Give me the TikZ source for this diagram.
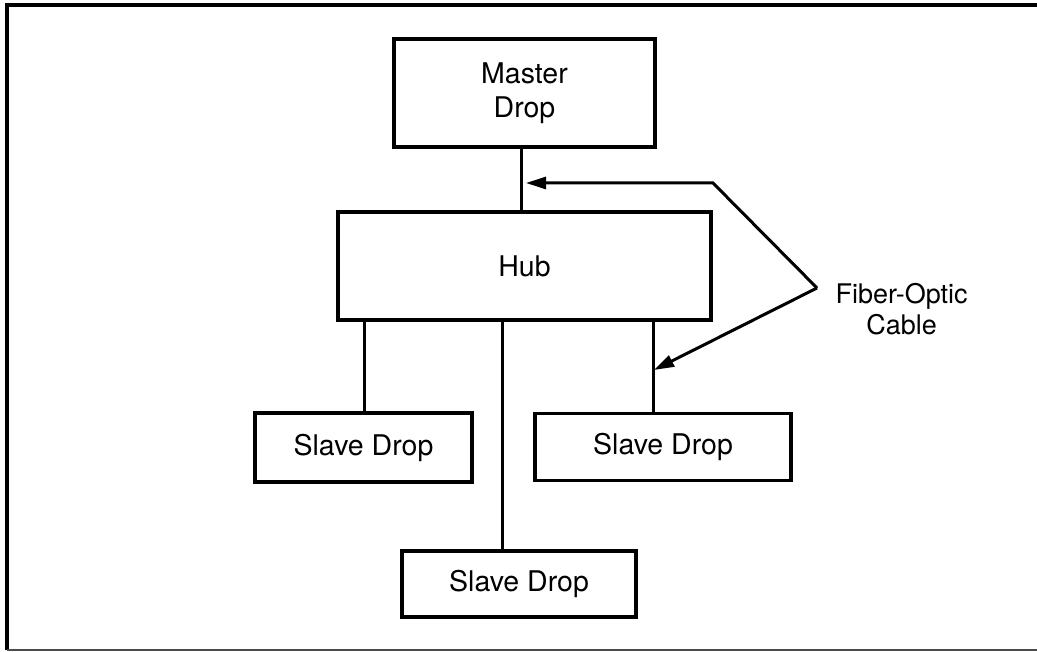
\documentclass[tikz,border=0pt]{standalone}
\usepackage{fontspec}
\setmainfont{TeX Gyre Heros}
\usetikzlibrary{arrows.meta}
\begin{document}
\begin{tikzpicture}[x=1pt,y=-1pt,
  box/.style={draw,line width=3.2pt,inner sep=0pt,align=center,
    font=\fontsize{28.5}{34}\selectfont},
  wire/.style={line width=3pt},
  pointer/.style={line width=3pt,-{Triangle[length=20pt,width=12pt]},line join=miter},
  frameline/.style={line width=3.6pt}]
\useasboundingbox (0,0) rectangle (1037,652);
% frame
\coordinate (ftr) at (1037,5);
\coordinate (ftl) at (7,5);
\coordinate (fbl) at (7,650);
\coordinate (fbr) at (1037,650);
\draw[frameline] (ftr) -- (ftl) -- (fbl);
\draw[line width=1.4pt,black!70] (fbl) -- (fbr);
% boxes
\node[box,minimum width=261pt,minimum height=108pt] (master) at (524.5,93) {Master\\Drop};
\node[box,minimum width=373pt,minimum height=108pt] (hub) at (524.5,266) {Hub};
\node[box,minimum width=217pt,minimum height=69pt] (slaveL) at (363.5,447.5) {Slave Drop};
\node[box,minimum width=256pt,minimum height=67pt] (slaveR) at (663,447) {Slave Drop};
\node[box,minimum width=234pt,minimum height=66pt] (slaveB) at (519,584) {Slave Drop};
% connector x positions
\coordinate (cm) at (521,0);
\coordinate (cl) at (364,0);
\coordinate (cc) at (502,0);
\coordinate (cr) at (653,0);
\draw[wire] (master.south -| cm) -- (hub.north -| cm);
\draw[wire] (hub.south -| cl) -- (slaveL.north -| cl);
\draw[wire] (hub.south -| cc) -- (slaveB.north -| cc);
\draw[wire] (hub.south -| cr) -- (slaveR.north -| cr);
% label and pointers
\node[align=center,font=\fontsize{27}{31}\selectfont,anchor=west] (lbl) at (832,309) {Fiber-Optic\\Cable};
\coordinate (apex) at (817,288);
\coordinate (bend) at (713,183);
\coordinate (tipA) at (526,183);
\coordinate (tipB) at (654,370);
\draw[pointer] (apex) -- (bend) -- (tipA);
\draw[pointer] (apex) -- (tipB);
\end{tikzpicture}
\end{document}
